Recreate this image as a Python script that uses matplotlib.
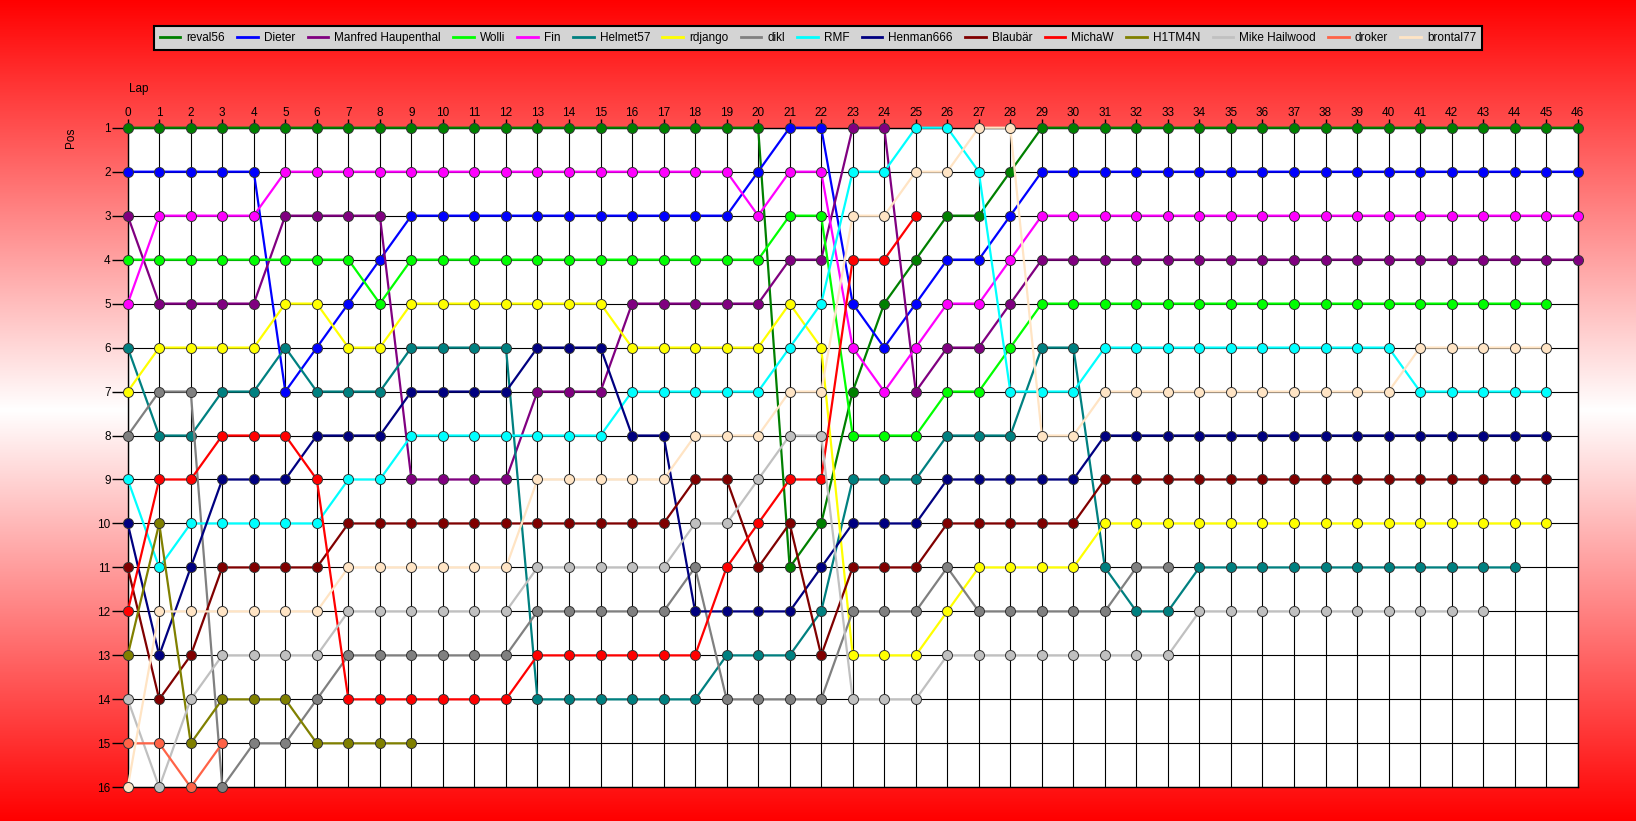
import matplotlib
matplotlib.use("Agg")
import matplotlib.pyplot as plt
from matplotlib.lines import Line2D
import numpy as np

plt.rcParams["font.family"] = ["Liberation Sans", "DejaVu Sans"]

W, H = 1636, 821
N_LAPS = 46
N_POS = 16

# driver names, colours and the position on each lap (index = lap number)
names = ["reval56", "Dieter", "Manfred Haupenthal", "Wolli", "Fin", "Helmet57",
         "rdjango", "dikl", "RMF", "Henman666", "Blaubär", "MichaW", "H1TM4N",
         "Mike Hailwood", "droker", "brontal77"]

colors = ["#008000", "#0000FF", "#800080", "#00FF00", "#FF00FF", "#008080",
          "#FFFF00", "#808080", "#00FFFF", "#000080", "#800000", "#FF0000",
          "#808000", "#C0C0C0", "#FF6347", "#FFE4C4"]

reval56 = [1]*21 + [11, 10, 7, 5, 4, 3, 3, 2] + [1]*18
dieter = [2]*5 + [7, 6, 5, 4] + [3]*11 + [2, 1, 1, 5, 6, 5, 4, 4, 3] + [2]*18
manfred = [3] + [5]*4 + [3]*4 + [9]*4 + [7]*3 + [5]*5 + [4, 4, 1, 1, 7, 6, 6, 5] + [4]*18
wolli = [4]*8 + [5] + [4]*12 + [3, 3, 8, 8, 8, 7, 7, 6] + [5]*17
fin = [5] + [3]*4 + [2]*15 + [3, 2, 2, 6, 7, 6, 5, 5, 4] + [3]*18
helmet57 = [6, 8, 8, 7, 7, 6, 7, 7, 7] + [6]*4 + [14]*6 + [13]*3 + [12, 9, 9, 9, 8, 8, 8, 6, 6, 11, 12, 12] + [11]*11
rdjango = [7] + [6]*4 + [5, 5, 6, 6] + [5]*7 + [6]*5 + [5, 6, 13, 13, 13, 12] + [11]*4 + [10]*15
dikl = [8, 7, 7, 16, 15, 15, 14] + [13]*6 + [12]*5 + [11] + [14]*4 + [12, 12, 12, 11] + [12]*5 + [11, 11]
rmf = [9, 11] + [10]*5 + [9, 9] + [8]*7 + [7]*5 + [6, 5, 2, 2, 1, 1, 2] + [7]*3 + [6]*10 + [7]*5
henman666 = [10, 13, 11] + [9]*3 + [8]*3 + [7]*4 + [6]*3 + [8, 8] + [12]*4 + [11] + [10]*3 + [9]*5 + [8]*15
blaubaer = [11, 14, 13] + [11]*4 + [10]*11 + [9, 9, 11, 10, 13] + [11]*3 + [10]*5 + [9]*15
michaw = [12, 9, 9, 8, 8, 8, 9] + [14]*6 + [13]*6 + [11, 10, 9, 9, 4, 4, 3]
h1tm4n = [13, 10, 15, 14, 14, 14, 15, 15, 15, 15]
mike_hailwood = [14, 16, 14] + [13]*4 + [12]*6 + [11]*5 + [10, 10, 9, 8, 8] + [14]*3 + [13]*8 + [12]*10
droker = [15, 15, 16, 15]
brontal77 = [16] + [12]*6 + [11]*6 + [9]*5 + [8]*3 + [7, 7, 3, 3, 2, 2, 1, 1, 8, 8] + [7]*10 + [6]*5

positions = [reval56, dieter, manfred, wolli, fin, helmet57, rdjango, dikl, rmf,
             henman666, blaubaer, michaw, h1tm4n, mike_hailwood, droker, brontal77]

fig = plt.figure(figsize=(W / 100, H / 100), dpi=100)

# red - white - red background
bg = fig.add_axes([0, 0, 1, 1], zorder=-10)
g = 1 - np.abs(np.linspace(-1, 1, 400))
grad = np.stack([np.ones_like(g), g, g], axis=-1).reshape(400, 1, 3)
bg.imshow(grad, aspect="auto", extent=[0, 1, 0, 1])
bg.set_axis_off()

x0, x1 = 127.7, 1577.7
y0, y1 = 127.7, 787.3
ax = fig.add_axes([x0 / W, 1 - y1 / H, (x1 - x0) / W, (y1 - y0) / H])
ax.set_facecolor("white")
ax.set_xlim(0, N_LAPS)
ax.set_ylim(N_POS, 1)
ax.set_xticks(range(N_LAPS + 1))
ax.set_yticks(range(1, N_POS + 1))
ax.xaxis.tick_top()
ax.tick_params(axis="x", length=6.5, width=1, pad=-0.5, labelsize=8.5, colors="black")
ax.tick_params(axis="y", length=11.5, width=1, pad=0.8, labelsize=8.5, colors="black")
ax.grid(True, color="black", lw=0.8)
ax.set_axisbelow(True)
for sp in ax.spines.values():
    sp.set_color("black")
    sp.set_linewidth(1.0)

for pos, c in zip(positions, colors):
    ax.plot(range(len(pos)), pos, color=c, lw=1.6, marker="o", ms=7.2,
            mfc=c, mec="#333333", mew=0.7, clip_on=False, zorder=3)

fig.text(129 / W, 1 - 89 / H, "Lap", ha="left", va="center", fontsize=8.5)
fig.text(71 / W, 1 - 138 / H, "Pos", ha="center", va="center", rotation=90, fontsize=8.5)

handles = [Line2D([], [], color=c, lw=2) for c in colors]
leg = fig.legend(handles, names, loc="center", bbox_to_anchor=(0.5, 1 - 38 / H),
                 ncol=16, frameon=True, fancybox=False, edgecolor="black",
                 facecolor="#D4D4D4", framealpha=1, fontsize=8.5,
                 handlelength=1.75, handletextpad=0.5, columnspacing=1.05,
                 borderpad=0.5)
leg.get_frame().set_linewidth(1.5)

fig.savefig("out.png", dpi=100)
